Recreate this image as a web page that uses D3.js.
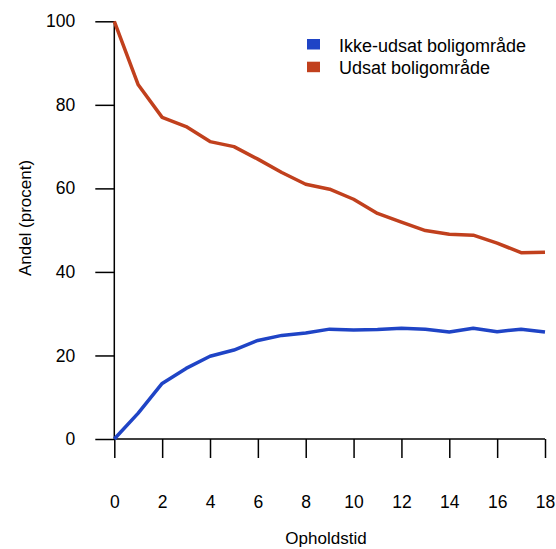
<!DOCTYPE html>
<html lang="da">
<head>
    <meta charset="UTF-8" />
    <title>Andel efter opholdstid</title>
    <script src="https://d3js.org/d3.v7.min.js"></script>
    <style>
        body, html {
            margin: 0;
            padding: 0;
            background: #fff;
            font-family: "Liberation Sans", Arial, sans-serif;
        }
        .axis path, .axis line {
            stroke: #000;
            stroke-width: 1.5px;
        }
        .axis text {
            font-size: 17.5px;
            fill: #000;
        }
        .series {
            fill: none;
            stroke-width: 3.5px;
            stroke-linejoin: round;
        }
    </style>
</head>
<body>
    <div id="chart"></div>

    <script>
        // opholdstid (x)
        const years = [0, 1, 2, 3, 4, 5, 6, 7, 8, 9, 10, 11, 12, 13, 14, 15, 16, 17, 18];

        // andel i procent
        const ikkeUdsat = [0, 6.2, 13.3, 16.9, 19.8, 21.3, 23.6, 24.8, 25.4, 26.3, 26.1, 26.2, 26.5, 26.3, 25.6, 26.5, 25.7, 26.3, 25.6];
        const udsat = [100, 84.8, 77.0, 74.8, 71.2, 70.0, 67.0, 63.8, 61.0, 59.8, 57.4, 54.0, 51.9, 49.9, 49.0, 48.8, 46.9, 44.6, 44.7];

        const xTicks = [0, 2, 4, 6, 8, 10, 12, 14, 16, 18];
        const yTicks = [0, 20, 40, 60, 80, 100];

        const seriesNames = ["Ikke-udsat boligområde", "Udsat boligområde"];
        const seriesColors = ["#1f44c6", "#c1401d"];

        const width = 556;
        const height = 549;
        const margin = {top: 21.3, right: 11, bottom: 110, left: 114.3};

        const svg = d3.select("#chart").append("svg")
            .attr("width", width)
            .attr("height", height);

        const x = d3.scaleLinear()
            .domain([0, 18])
            .range([margin.left, width - margin.right]);

        const y = d3.scaleLinear()
            .domain([0, 100])
            .range([height - margin.bottom, margin.top]);

        // y axis
        svg.append("g")
            .attr("class", "axis")
            .attr("transform", `translate(${margin.left},0)`)
            .call(d3.axisLeft(y).tickValues(yTicks).tickSize(19).tickPadding(20).tickSizeOuter(0))
            .call(g => g.select(".domain").attr("d", `M0,${y(0)}V${y(100)}`));

        // x axis
        svg.append("g")
            .attr("class", "axis")
            .attr("transform", `translate(0,${y(0)})`)
            .call(d3.axisBottom(x).tickValues(xTicks).tickSize(19).tickPadding(38).tickSizeOuter(0))
            .call(g => g.select(".domain").attr("d", `M${x(0)},0H${x(18)}`));

        // axis titles
        svg.append("text")
            .attr("x", 326)
            .attr("y", 544)
            .attr("text-anchor", "middle")
            .style("font-size", "17px")
            .text("Opholdstid");

        svg.append("text")
            .attr("transform", "translate(31,218) rotate(-90)")
            .attr("text-anchor", "middle")
            .style("font-size", "17px")
            .text("Andel (procent)");

        // lines
        const line = d3.line()
            .x((d, i) => x(years[i]))
            .y(d => y(d));

        [ikkeUdsat, udsat].forEach((vals, i) => {
            svg.append("path")
                .attr("class", "series")
                .attr("stroke", seriesColors[i])
                .attr("d", line(vals));
        });

        // legend
        const legend = svg.append("g")
            .attr("transform", "translate(307,39)");

        seriesNames.forEach((name, i) => {
            const row = legend.append("g")
                .attr("transform", `translate(0,${i * 22.7})`);
            row.append("rect")
                .attr("width", 13)
                .attr("height", 10.5)
                .attr("fill", seriesColors[i]);
            row.append("text")
                .attr("x", 32)
                .attr("y", 12.5)
                .style("font-size", "18px")
                .text(name);
        });
    </script>
</body>
</html>
